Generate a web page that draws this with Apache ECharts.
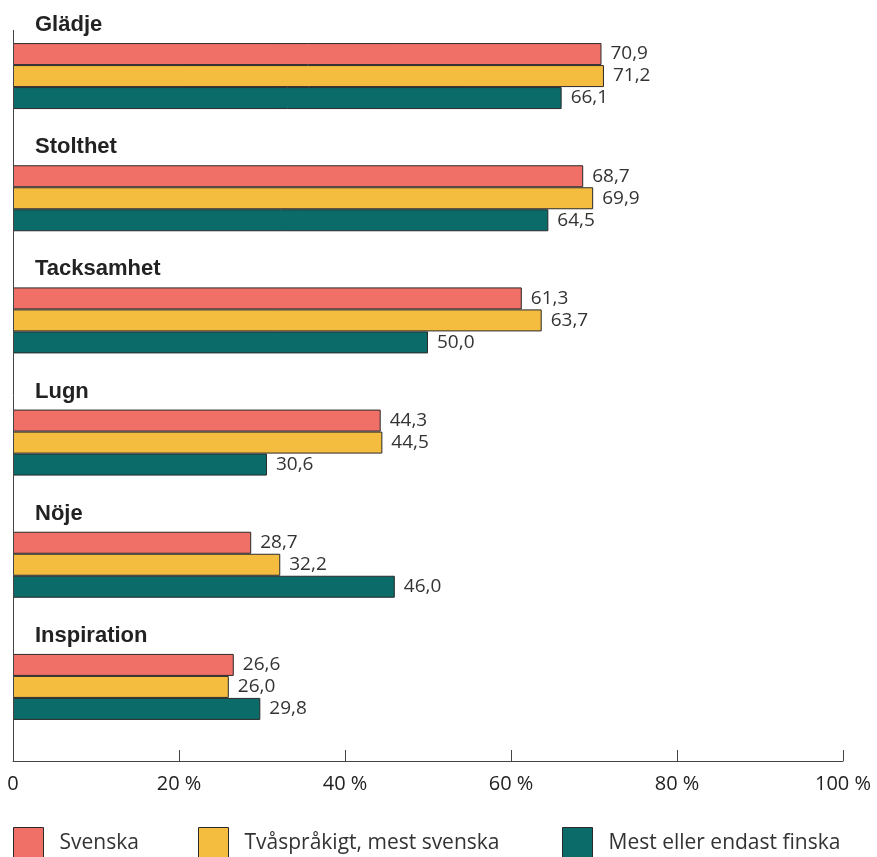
<!DOCTYPE html>
<html>
<head>
<meta charset="utf-8">
<script src="https://cdn.jsdelivr.net/npm/echarts@6/dist/echarts.min.js"></script>
<style>
  html, body { margin: 0; padding: 0; background: #fff; }
  #chart { width: 877px; height: 857px; }
</style>
</head>
<body>
<div id="chart"></div>
<script>
// Emotions and share (%) per language group
const categories = ['Glädje', 'Stolthet', 'Tacksamhet', 'Lugn', 'Nöje', 'Inspiration'];
const seriesNames = ['Svenska', 'Tvåspråkigt, mest svenska', 'Mest eller endast finska'];
const svenska = [70.9, 68.7, 61.3, 44.3, 28.7, 26.6];
const tvasprakigt = [71.2, 69.9, 63.7, 44.5, 32.2, 26.0];
const finska = [66.1, 64.5, 50.0, 30.6, 46.0, 29.8];
const xTicks = [0, 20, 40, 60, 80, 100];

const colors = ['#F07067', '#F4BD40', '#0B6B69'];
const textFont = '"Open Sans", Lato, sans-serif';

const fmt = v => v.toFixed(1).replace('.', ',');

const chart = echarts.init(document.getElementById('chart'), null, { renderer: 'canvas' });

function barSeries(name, data, color) {
  return {
    name: name,
    type: 'bar',
    data: data,
    barWidth: 22,
    barGap: '0%',
    itemStyle: { color: color, borderColor: '#2a2a2a', borderWidth: 1 },
    label: {
      show: true,
      position: 'right',
      distance: 7,
      formatter: p => fmt(p.value),
      fontFamily: textFont,
      fontSize: 19,
      color: '#333',
      backgroundColor: '#fff',
      padding: [0, 2, 0, 2]
    }
  };
}

function legendAt(left, name) {
  return {
    data: [name],
    left: left,
    top: 827,
    padding: 0,
    itemWidth: 30,
    itemHeight: 31,
    itemGap: 0,
    icon: 'rect',
    textStyle: { fontFamily: textFont, fontSize: 21, color: '#333', padding: [5, 0, 0, 11] },
    itemStyle: { borderColor: '#2a2a2a', borderWidth: 1 }
  };
}

chart.setOption({
  animation: false,
  grid: { left: 13, right: 34, top: 15, bottom: 109, containLabel: false },
  legend: [
    legendAt(13, seriesNames[0]),
    legendAt(198, seriesNames[1]),
    legendAt(562, seriesNames[2])
  ],
  xAxis: {
    type: 'value',
    min: xTicks[0],
    max: xTicks[xTicks.length - 1],
    interval: 20,
    offset: 13,
    axisLine: { show: true, lineStyle: { color: '#444', width: 1 } },
    axisTick: { show: true, inside: true, length: 11, lineStyle: { color: '#444' } },
    splitLine: { show: false },
    axisLabel: {
      margin: 13,
      fontFamily: textFont,
      fontSize: 20,
      color: '#222',
      formatter: v => (v === 0 ? '0' : v + ' %')
    }
  },
  yAxis: {
    type: 'category',
    data: categories,
    inverse: true,
    axisLine: { show: false },
    axisTick: { show: false },
    axisLabel: {
      show: true,
      interval: 0,
      inside: true,
      margin: 22,
      fontFamily: '"Liberation Sans", Arial, sans-serif',
      fontWeight: 'bold',
      fontSize: 22,
      color: '#222',
      verticalAlign: 'bottom',
      padding: [0, 0, 40, 0]
    }
  },
  series: [
    barSeries(seriesNames[0], svenska, colors[0]),
    barSeries(seriesNames[1], tvasprakigt, colors[1]),
    barSeries(seriesNames[2], finska, colors[2])
  ]
});

// Vertical axis line along the zero position, reaching down to the x axis
const x0 = chart.convertToPixel({ xAxisIndex: 0 }, 0);
chart.setOption({
  graphic: [{
    type: 'line',
    shape: { x1: x0 + 0.5, y1: 30, x2: x0 + 0.5, y2: 761 },
    style: { stroke: '#444', lineWidth: 1 },
    z: 10
  }]
});
</script>
</body>
</html>
